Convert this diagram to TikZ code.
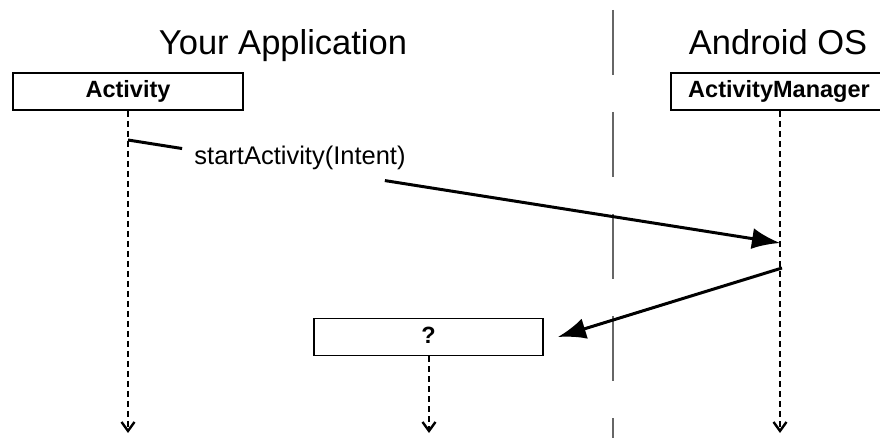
\documentclass[tikz,border=0pt]{standalone}
\usepackage{fontspec}
\setmainfont{Liberation Sans}
\usetikzlibrary{arrows.meta,calc}
\begin{document}
\begin{tikzpicture}[x=1pt,y=-1pt,
  objbox/.style={draw, line width=1.8pt, minimum height=37pt, inner sep=0pt, text height=17pt, text depth=5pt, font=\fontsize{23.5}{26}\selectfont\bfseries},
  lifeline/.style={line width=2.4pt, dash pattern=on 6pt off 4pt, -{Straight Barb[length=9pt,width=13pt,line width=2.4pt]}},
  msgline/.style={line width=3pt},
  msg/.style={line width=3pt, -{Latex[length=28pt,width=21pt]}},
  title/.style={font=\fontsize{34.5}{40}\selectfont, anchor=base},
  divider/.style={draw=black!60, line width=2.5pt, dash pattern=on 65pt off 37pt},
  lbl/.style={font=\fontsize{25.5}{28}\selectfont, anchor=base},
]
\useasboundingbox (0,0) rectangle (880,438);
\clip (0,0) rectangle (880,438);

\node[title] (app) at (283,55) {Your Application};
\node[title] (os) at (778,55) {Android OS};

\coordinate (dtop) at (613,10);
\coordinate (dbot) at (613,440);
\draw[divider] (dtop) -- (dbot);

\node[objbox, minimum width=230pt] (act) at (128,91.5) {Activity};
\node[objbox, minimum width=216pt] (am) at (779,91.5) {ActivityManager};
\node[objbox, minimum width=229pt] (q) at (428.5,337) {?};

\coordinate (actend) at (128,433);
\coordinate (amend) at (780,433);
\coordinate (qend) at (429,433);
\draw[lifeline] (act.south) -- (actend);
\draw[lifeline] (am.south -| amend) -- (amend);
\draw[lifeline] (q.south -| qend) -- (qend);

\coordinate (m1s) at (128,140);
\coordinate (m1e) at (780,243);
\draw[msgline] (m1s) -- ($(m1s)!0.083!(m1e)$);
\draw[msg] ($(m1s)!0.394!(m1e)$) -- (m1e);
\node[lbl] (m1lbl) at (300,165) {startActivity(Intent)};

\coordinate (m2s) at (782,268);
\draw[msg] (m2s) -- ($(q.east)+(14,0)$);
\end{tikzpicture}
\end{document}
